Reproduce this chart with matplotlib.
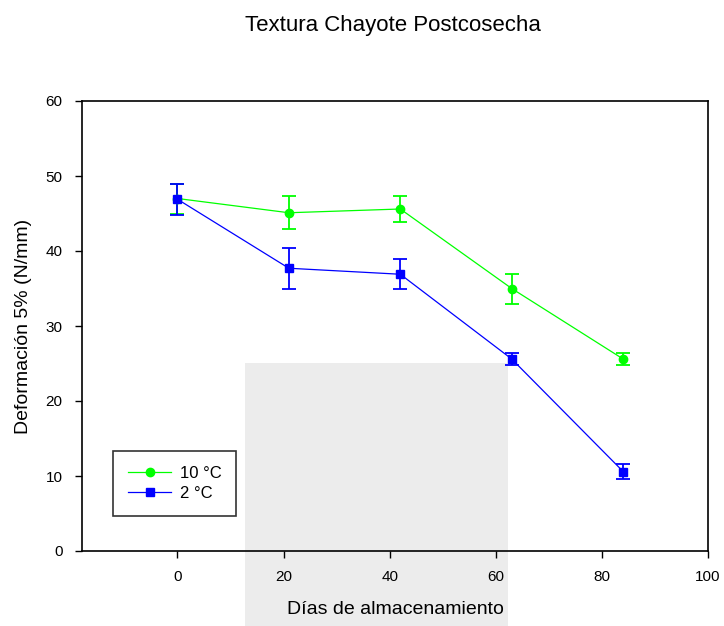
import matplotlib
matplotlib.use("Agg")
import matplotlib.pyplot as plt
from matplotlib.patches import Rectangle
from matplotlib.lines import Line2D

plt.rcParams['font.family'] = ['Liberation Sans', 'DejaVu Sans']

dias = [0, 21, 42, 63, 84]

# Storage at 10 °C
def_10 = [47.0, 45.1, 45.6, 35.0, 25.6]
err_10 = [2.0, 2.2, 1.7, 2.0, 0.8]

# Storage at 2 °C
def_2 = [46.9, 37.7, 36.9, 25.6, 10.6]
err_2 = [2.1, 2.7, 2.0, 0.8, 1.0]

x_ticks = [0, 20, 40, 60, 80, 100]
y_ticks = [0, 10, 20, 30, 40, 50, 60]

green = '#00ff00'
blue = '#0000ff'

fig = plt.figure(figsize=(7.24, 6.26), dpi=100)
fig.patch.set_facecolor('white')

ax = fig.add_axes([82 / 724, 75 / 626, (708 - 82) / 724, (551 - 101) / 626])
ax.set_facecolor('none')

# light grey backdrop panel behind the data
ax.add_patch(Rectangle((245 / 724, 0), (508 - 245) / 724, 1 - 363 / 626,
                       transform=fig.transFigure, facecolor='#ececec',
                       edgecolor='none', zorder=0.5, clip_on=False))

ax.errorbar(dias, def_10, yerr=err_10, color=green, marker='o', ms=6,
            lw=0.9, elinewidth=1.3, capsize=5, capthick=1.3)
ax.errorbar(dias, def_2, yerr=err_2, color=blue, marker='s', ms=5.5,
            lw=0.9, elinewidth=1.3, capsize=5, capthick=1.3)

ax.set_xlim(-18, 100)
ax.set_ylim(0, 60)
ax.set_xticks(x_ticks)
ax.set_yticks(y_ticks)
ax.tick_params(direction='out', length=5, width=1, labelsize=11,
               top=False, right=False, pad=9)
for s in ax.spines.values():
    s.set_linewidth(1.2)

ax.set_xlabel('Días de almacenamiento', fontsize=14, labelpad=12)
ax.set_ylabel('Deformación 5% (N/mm)', fontsize=14, labelpad=10)

fig.text(393 / 724, 1 - 25 / 626, 'Textura Chayote Postcosecha', fontsize=16,
         ha='center', va='center')

handles = [Line2D([], [], color=green, marker='o', ms=6, lw=0.9),
           Line2D([], [], color=blue, marker='s', ms=5.5, lw=0.9)]
leg = ax.legend(handles, ['10 °C', '2 °C'], loc='lower left',
                bbox_to_anchor=(0.0495, 0.078), fontsize=12,
                frameon=True, fancybox=False, edgecolor='black',
                handlelength=2.6, borderpad=0.9, labelspacing=0.3,
                handletextpad=0.5, borderaxespad=0)
leg.get_frame().set_linewidth(1.2)

fig.savefig('out.png', dpi=100)
